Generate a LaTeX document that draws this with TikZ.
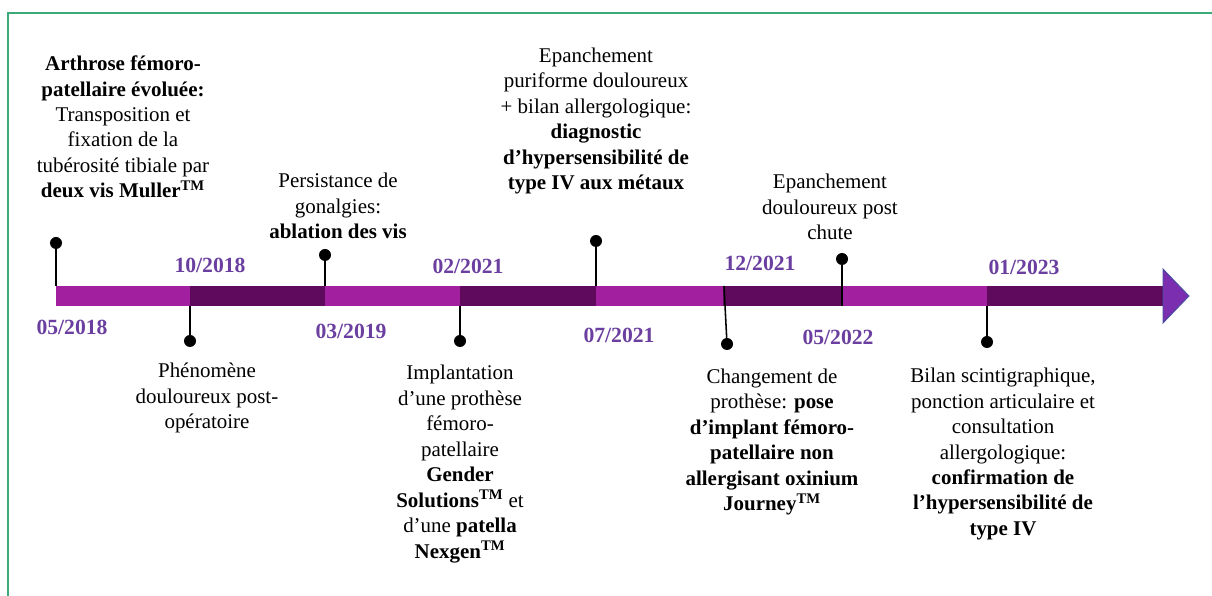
\documentclass[tikz,border=0pt]{standalone}
\usepackage{fontspec}
\setmainfont{Liberation Serif}
\definecolor{barlight}{RGB}{162,31,160}
\definecolor{bardark}{RGB}{95,10,92}
\definecolor{datecol}{RGB}{106,63,160}
\definecolor{framegreen}{RGB}{60,170,120}
\definecolor{arrowfill}{RGB}{123,47,176}
\definecolor{arrowedge}{RGB}{64,80,160}

\begin{document}
\begin{tikzpicture}[x=0.025cm,y=-0.025cm,
        evtext/.style={align=center,inner sep=0pt,font=\fontsize{14.9}{18.1}\selectfont},
        datelabel/.style={inner sep=0pt,text=datecol,font=\fontsize{15.4}{18}\selectfont\bfseries},
        pindot/.style={circle,fill=black,inner sep=0pt,minimum size=0.3cm},
        stem/.style={black,line width=1.1pt}]
        \useasboundingbox (0,0) rectangle (1212,596);
        % green frame (open at right and bottom)
        \draw[framegreen,line width=1.4pt] (8,596) -- (8,13) -- (1212,13);
        % time bar, alternating segments
        \foreach \a/\b/\c in {56/190/barlight,190/325/bardark,325/460/barlight,460/596/bardark,
                596/723/barlight,723/842/bardark,842/987/barlight,987/1163/bardark}
            \fill[\c] (\a,286) rectangle (\b,306);
        % arrow head
        \draw[arrowedge,fill=arrowfill,line width=0.6pt] (1163,269) -- (1189,296) -- (1163,323) -- cycle;
        % dates
        \foreach \n/\x/\y/\t in {d1/72/327/{05/2018},d2/210/265/{10/2018},d3/351/331/{03/2019},
                d4/468/266/{02/2021},d5/619/335/{07/2021},d6/760/263/{12/2021},
                d7/838/337/{05/2022},d8/1024/267/{01/2023}}
            \node[datelabel] (\n) at (\x,\y) {\t};
        % pins: point on the bar and dot
        \foreach \n/\bx/\by/\px/\py in {1/56/286/56/243,2/190/306/190/341,3/325/286/325/255,
                4/460/306/460/341,5/596/286/596/241,6/724/286/727/344,
                7/842/306/842/259,8/987/306/987/342} {
            \coordinate (b\n) at (\bx,\by);
            \node[pindot] (p\n) at (\px,\py) {};
            \draw[stem] (b\n) -- (p\n.center);
        }
        % events above the bar
        \node[evtext] (e1) at (123,127) {\textbf{Arthrose fémoro-}\\\textbf{patellaire évoluée:}\\
            Transposition et\\fixation de la\\tubérosité tibiale par\\
            \textbf{deux vis Muller\textsuperscript{TM}}};
        \node[evtext] (e3) at (338,206) {Persistance de\\gonalgies:\\\textbf{ablation des vis}};
        \node[evtext] (e5) at (596,121) {Epanchement\\puriforme douloureux\\+ bilan allergologique:\\
            \textbf{diagnostic}\\\textbf{d’hypersensibilité de}\\\textbf{type IV aux métaux}};
        \node[evtext] (e7) at (830,207) {Epanchement\\douloureux post\\chute};
        % events below the bar
        \node[evtext] (e2) at (207,398) {Phénomène\\douloureux post-\\opératoire};
        \node[evtext] (e4) at (460,464) {Implantation\\d’une prothèse\\fémoro-\\patellaire\\
            \textbf{Gender}\\\textbf{Solutions\textsuperscript{TM}} et\\d’une \textbf{patella}\\
            \textbf{Nexgen\textsuperscript{TM}}};
        \node[evtext] (e6) at (772,442) {Changement de\\prothèse: \textbf{pose}\\
            \textbf{d’implant fémoro-}\\\textbf{patellaire non}\\\textbf{allergisant oxinium}\\
            \textbf{Journey\textsuperscript{TM}}};
        \node[evtext] (e8) at (1003,454) {Bilan scintigraphique,\\ponction articulaire et\\
            consultation\\allergologique:\\\textbf{confirmation de}\\
            \textbf{l’hypersensibilité de}\\\textbf{type IV}};
    \end{tikzpicture}
\end{document}
